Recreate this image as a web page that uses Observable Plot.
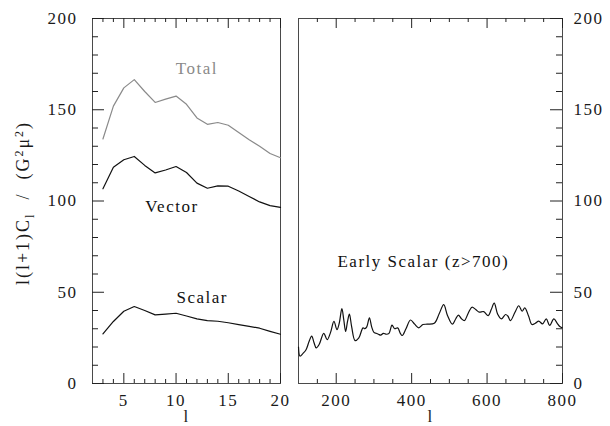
<!DOCTYPE html>
<html>
<head>
<meta charset="utf-8">
<script src="https://cdn.jsdelivr.net/npm/d3@7"></script>
<script src="https://cdn.jsdelivr.net/npm/@observablehq/plot@0.6"></script>
<style>
  html, body { margin: 0; padding: 0; background: #fff; }
  #chart { position: relative; width: 610px; height: 426px; }
  #chart svg { position: absolute; top: 0; }
</style>
</head>
<body>
<div id="chart"></div>
<script>
// ---- Left panel data (low multipoles) ----
const ell = [3, 4, 5, 6, 7, 8, 9, 10, 11, 12, 13, 14, 15, 16, 17, 18, 19, 20];
const total  = [134, 152, 162, 166.5, 160, 154, 155.8, 157.5, 153, 145.5, 142, 143, 141.5, 137.5, 133.5, 130, 126, 123.7];
const vector = [106.7, 118.5, 122.6, 124.4, 119.5, 115.4, 117, 118.9, 115.6, 109.8, 107, 108.3, 108.1, 105.5, 102.5, 99.5, 97.5, 96.5];
const scalar = [27.2, 34, 39.6, 42.2, 40, 37.6, 38, 38.5, 37, 35.4, 34.5, 34.1, 33.3, 32.3, 31.3, 30.3, 28.6, 27];

// ---- Right panel data (Early Scalar, z>700) ----
const earlyL = [100, 104, 112, 120, 128, 135, 141, 147, 155, 167, 176, 185, 194, 202, 208, 215, 220, 225, 230, 235,
  241, 250, 260, 271, 276, 281, 288, 294, 300, 306, 312, 318, 325, 333, 340, 348, 355, 363, 370, 375,
  385, 397, 408, 419, 430, 441, 460, 473, 485, 495, 508, 517, 524, 532, 540, 550, 560, 570, 579, 591,
  603, 611, 619, 628, 638, 649, 655, 662, 674, 684, 693, 700, 710, 719, 728, 737, 747, 757, 766, 777, 786, 792, 799];
const earlyV = [20, 15, 16.5, 18.5, 23, 26, 22.5, 19.5, 21.5, 27.5, 24, 28, 34, 29.5, 33, 41, 35, 28.5, 34, 38,
  31, 23.5, 25, 30.5, 30, 31, 36, 31, 28, 27.5, 27, 26.5, 27.5, 27, 27.5, 32, 30, 30.5, 27.5, 26.3,
  30, 34.8, 32.5, 30.5, 32.3, 32.5, 33, 38.2, 43.2, 37.3, 32.5, 35.5, 37.5, 35.5, 34.5, 38.5, 41.8, 40.5, 39.1, 39.4,
  37.2, 40.5, 44, 38, 35.4, 37.8, 37, 34.5, 39, 42.6, 39.6, 41.4, 37, 32.3, 33, 34.2, 32.7, 35.4, 31.8, 35.4, 33, 31.4, 30.5];

// ---- Ticks and labels ----
const yMajor = [0, 50, 100, 150, 200];
const yMinor = [10, 20, 30, 40, 60, 70, 80, 90, 110, 120, 130, 140, 160, 170, 180, 190];
const xLeftMajor = [5, 10, 15, 20];
const xLeftMinor = [3, 4, 6, 7, 8, 9, 11, 12, 13, 14, 16, 17, 18, 19];
const xRightMajor = [200, 400, 600, 800];
const xRightMinor = [150, 250, 300, 350, 450, 500, 550, 650, 700, 750];
const leftNotes = [
  {text: "Total", l: 12.0, v: 172.5, color: "#8a8a8a"},
  {text: "Vector", l: 9.6, v: 97, color: "#111"},
  {text: "Scalar", l: 12.5, v: 47.3, color: "#111"}
];
const rightNotes = [{text: "Early Scalar (z>700)", l: 431, v: 66.8, color: "#111"}];
const xTitle = "l";
const yTitle = "l(l+1)C_l / (G²μ²)";

const font = {fontFamily: "'Liberation Serif', 'DejaVu Serif', serif", fontSize: "17px", color: "#1a1a1a", background: "transparent", letterSpacing: "1.5px"};
const TOP = 18, BOTTOM = 43, H = 426;
const innerH = H - TOP - BOTTOM;
const frameColor = "#4a4a4a";
const tickColor = "#222";

// Left panel
const leftW = 290, leftML = 92, leftMR = 10;
const leftInnerW = leftW - leftML - leftMR;
const left = Plot.plot({
  width: leftW, height: H,
  marginLeft: leftML, marginRight: leftMR, marginTop: TOP, marginBottom: BOTTOM,
  x: {domain: [2, 20]},
  y: {domain: [0, 200]},
  style: font,
  marks: [
    Plot.frame({stroke: frameColor, strokeWidth: 1}),
    // bottom ticks (inward)
    Plot.tickX(xLeftMajor, {x: d => d, insetTop: innerH - 10, stroke: tickColor}),
    Plot.tickX(xLeftMinor, {x: d => d, insetTop: innerH - 4, stroke: tickColor}),
    // top ticks (inward)
    Plot.tickX(xLeftMajor, {x: d => d, insetBottom: innerH - 10, stroke: tickColor}),
    Plot.tickX(xLeftMinor, {x: d => d, insetBottom: innerH - 4, stroke: tickColor}),
    // left ticks (inward)
    Plot.tickY(yMajor, {y: d => d, insetRight: leftInnerW - 12, stroke: tickColor}),
    Plot.tickY(yMinor, {y: d => d, insetRight: leftInnerW - 6, stroke: tickColor}),
    Plot.axisX({ticks: xLeftMajor, tickSize: 0, tickPadding: 10, label: null}),
    Plot.axisY({ticks: yMajor, tickSize: 0, tickPadding: 15, label: null}),
    Plot.lineY(total, {x: ell, stroke: "#8a8a8a", strokeWidth: 1.2}),
    Plot.lineY(vector, {x: ell, stroke: "#111", strokeWidth: 1.2}),
    Plot.lineY(scalar, {x: ell, stroke: "#111", strokeWidth: 1.2}),
    Plot.text(leftNotes, {x: "l", y: "v", text: "text", fill: "color"}),
    Plot.text([xTitle], {frameAnchor: "bottom", lineAnchor: "middle", dy: 33}),
    Plot.text([yTitle], {frameAnchor: "left", textAnchor: "middle", dx: -69, dy: 2, rotate: -90})
  ]
});
left.style.left = "0px";

// Right panel
const rightW = 320, rightML = 8, rightMR = 48;
const rightInnerW = rightW - rightML - rightMR;
const right = Plot.plot({
  width: rightW, height: H,
  marginLeft: rightML, marginRight: rightMR, marginTop: TOP, marginBottom: BOTTOM,
  x: {domain: [100, 800]},
  y: {domain: [0, 200]},
  style: font,
  marks: [
    Plot.frame({stroke: frameColor, strokeWidth: 1}),
    Plot.tickX(xRightMajor, {x: d => d, insetTop: innerH - 10, stroke: tickColor}),
    Plot.tickX(xRightMinor, {x: d => d, insetTop: innerH - 4, stroke: tickColor}),
    Plot.tickX(xRightMajor, {x: d => d, insetBottom: innerH - 10, stroke: tickColor}),
    Plot.tickX(xRightMinor, {x: d => d, insetBottom: innerH - 4, stroke: tickColor}),
    Plot.tickY(yMajor, {y: d => d, insetLeft: rightInnerW - 12, stroke: tickColor}),
    Plot.tickY(yMinor, {y: d => d, insetLeft: rightInnerW - 6, stroke: tickColor}),
    Plot.axisX({ticks: xRightMajor, tickSize: 0, tickPadding: 10, label: null}),
    Plot.axisY({anchor: "right", ticks: yMajor, tickSize: 0, tickPadding: 11, label: null}),
    Plot.line(earlyL, {x: earlyL, y: earlyV, stroke: "#111", strokeWidth: 1.2, curve: "catmull-rom"}),
    Plot.text(rightNotes, {x: "l", y: "v", text: "text", fill: "color"}),
    Plot.text([xTitle], {frameAnchor: "bottom", lineAnchor: "middle", dy: 33})
  ]
});
right.style.left = "290px";

const chart = document.getElementById("chart");
chart.appendChild(left);
chart.appendChild(right);

// Typeset the y-axis title with sub/superscripts
d3.select(left).selectAll("text").each(function() {
  if (this.textContent === yTitle) {
    const t = d3.select(this);
    t.text(null).style("letter-spacing", "2px").style("font-size", "18px");
    t.append("tspan").text("l(l+1)C");
    t.append("tspan").text("l").attr("dy", 5).style("font-size", "12px");
    t.append("tspan").text("\u00a0\u00a0/\u00a0\u00a0(G").attr("dy", -5);
    t.append("tspan").text("2").attr("dy", -6).style("font-size", "12px");
    t.append("tspan").text("μ").attr("dy", 6);
    t.append("tspan").text("2").attr("dy", -6).style("font-size", "12px");
    t.append("tspan").text(")").attr("dy", 6);
  }
});
</script>
</body>
</html>
